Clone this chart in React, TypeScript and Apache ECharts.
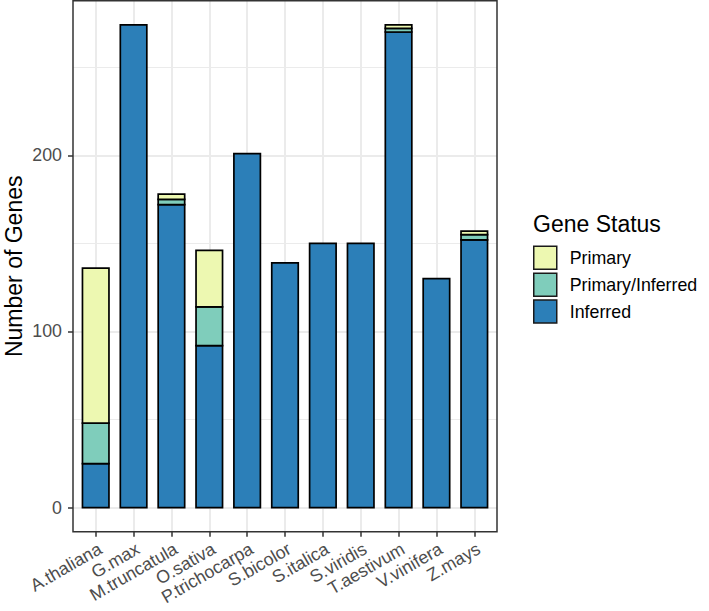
import React, { useEffect, useRef } from "react";
import * as echarts from "echarts";

const categories = [
  "A.thaliana",
  "G.max",
  "M.truncatula",
  "O.sativa",
  "P.trichocarpa",
  "S.bicolor",
  "S.italica",
  "S.viridis",
  "T.aestivum",
  "V.vinifera",
  "Z.mays",
];
const inferred = [25, 274, 172, 92, 201, 139, 150, 150, 270, 130, 152];
const primaryInferred = [23, 0, 3, 22, 0, 0, 0, 0, 2, 0, 3];
const primary = [88, 0, 3, 32, 0, 0, 0, 0, 2, 0, 2];
const yTicks = [0, 100, 200];
const legendOrder = ["Primary", "Primary/Inferred", "Inferred"];
const legendTitle = "Gene Status";
const yTitle = "Number of Genes";

const FONT = "'Liberation Sans', Arial, Helvetica, sans-serif";
const COL_PRIMARY = "#EDF8B1";
const COL_PI = "#7FCDBB";
const COL_INF = "#2C7FB8";

export default function App() {
  const ref = useRef<HTMLDivElement>(null);
  useEffect(() => {
    if (!ref.current) return;
    const chart = echarts.init(ref.current, undefined, { renderer: "svg" });

    const n = categories.length;
    const totals = categories.map((_, i) => inferred[i] + primaryInferred[i] + primary[i]);
    const maxTotal = Math.max(...totals);
    const pad = maxTotal * 0.05;
    const yMax = maxTotal + pad;

    const PL = 73, PR = 497, PT = 0.8, PB = 531.8;
    const pxPerUnit = (PB - PT) / (yMax + pad);
    const zeroY = PT + yMax * pxPerUnit;
    const band = (PR - PL) / (n + 0.2);

    // stacked segments: [categoryIndex, lower, upper]
    const stackOrder = [
      { name: "Inferred", values: inferred, color: COL_INF },
      { name: "Primary/Inferred", values: primaryInferred, color: COL_PI },
      { name: "Primary", values: primary, color: COL_PRIMARY },
    ];
    const base = categories.map(() => 0);
    const segSeries = stackOrder.map((s) => {
      const data: number[][] = [];
      s.values.forEach((v, i) => {
        if (v > 0) data.push([i, base[i], base[i] + v]);
        base[i] += v;
      });
      return {
        type: "custom" as const,
        name: s.name,
        xAxisIndex: 0,
        yAxisIndex: 0,
        itemStyle: { color: s.color },
        encode: { x: 0, y: 2 },
        data,
        silent: true,
        renderItem: (params: any, api: any) => {
          const x = api.value(0);
          const lo = api.value(1);
          const hi = api.value(2);
          const p0 = api.coord([x, lo]);
          const p1 = api.coord([x, hi]);
          const bw = api.size([1, 0])[0] * 0.7;
          return {
            type: "rect",
            shape: { x: p0[0] - bw / 2, y: p1[1], width: bw, height: p0[1] - p1[1] },
            style: { fill: s.color, stroke: "#000000", lineWidth: 1.7 },
          };
        },
      };
    });

    chart.setOption({
      animation: false,
      backgroundColor: "#ffffff",
      textStyle: { fontFamily: FONT },
      grid: [
        // bars
        { left: PL + 0.1 * band, width: n * band, top: PT, height: zeroY - PT },
        // vertical grid lines + x ticks
        { left: PL + 0.6 * band, width: (n - 1) * band, top: PT, height: PB - PT },
        // horizontal grid lines + y labels
        { left: PL, width: PR - PL, top: PT, height: zeroY - PT },
      ],
      xAxis: [
        { type: "category", gridIndex: 0, data: categories, show: false },
        {
          type: "category",
          gridIndex: 1,
          data: categories,
          boundaryGap: false,
          axisLine: { show: false },
          axisTick: {
            show: true,
            interval: 0,
            length: 5,
            lineStyle: { color: "#333333", width: 1.5 },
          },
          axisLabel: { show: false },
          splitLine: {
            show: true,
            interval: 0,
            lineStyle: { color: "#EBEBEB", width: 2 },
          },
        },
        { type: "category", gridIndex: 2, data: categories, show: false },
      ],
      yAxis: [
        { type: "value", gridIndex: 0, min: 0, max: yMax, show: false },
        { type: "value", gridIndex: 1, min: 0, max: 1, show: false },
        {
          type: "value",
          gridIndex: 2,
          min: 0,
          max: yMax,
          interval: 100,
          axisLine: { show: false },
          axisTick: {
            show: true,
            length: 5,
            customValues: yTicks,
            lineStyle: { color: "#333333", width: 1.5 },
          },
          axisLabel: {
            customValues: yTicks,
            margin: 11,
            fontSize: 17.8,
            color: "#4D4D4D",
            fontFamily: FONT,
          },
          splitLine: { show: true, lineStyle: { color: "#EBEBEB", width: 2 } },
          minorTick: { show: false, splitNumber: 2 },
          minorSplitLine: { show: true, lineStyle: { color: "#EBEBEB", width: 1.1 } },
        },
      ],
      legend: {
        data: legendOrder,
        orient: "vertical",
        left: 533,
        top: 245.5,
        padding: 0,
        itemWidth: 23,
        itemHeight: 23,
        itemGap: 2.4,
        icon: "rect",
        selectedMode: false,
        itemStyle: { borderColor: "#1a1a1a", borderWidth: 1.5 },
        textStyle: {
          fontSize: 17.8,
          color: "#000000",
          fontFamily: FONT,
          padding: [0, 0, 0, 8],
        },
      },
      series: segSeries,
    });

    // x-axis category labels: right end anchored just under each tick, rotated 30°
    const xLabels = categories.map((c) => {
      const px = chart.convertToPixel({ xAxisIndex: 1 }, c) as number;
      return {
        type: "text",
        x: px + 4.5,
        y: PB + 15.5,
        rotation: Math.PI / 6,
        silent: true,
        style: {
          text: c,
          font: `17.8px ${FONT}`,
          fill: "#4D4D4D",
          align: "right",
          verticalAlign: "middle",
        },
      };
    });

    chart.setOption({
      graphic: [
        {
          type: "rect",
          z: 100,
          shape: { x: PL, y: PT, width: PR - PL, height: PB - PT },
          style: { fill: "none", stroke: "#333333", lineWidth: 1.5 },
        },
        {
          type: "text",
          x: 14,
          y: (PT + PB) / 2,
          rotation: Math.PI / 2,
          style: {
            text: yTitle,
            font: `23px ${FONT}`,
            fill: "#000000",
            align: "center",
            verticalAlign: "middle",
          },
        },
        {
          type: "text",
          x: 533,
          y: 224,
          style: {
            text: legendTitle,
            font: `23px ${FONT}`,
            fill: "#000000",
            align: "left",
            verticalAlign: "middle",
          },
        },
        ...xLabels,
      ],
    });
    return () => chart.dispose();
  }, []);

  return (
    <div
      ref={ref}
      style={{ position: "fixed", left: 0, top: 0, width: 709, height: 611 }}
    />
  );
}
